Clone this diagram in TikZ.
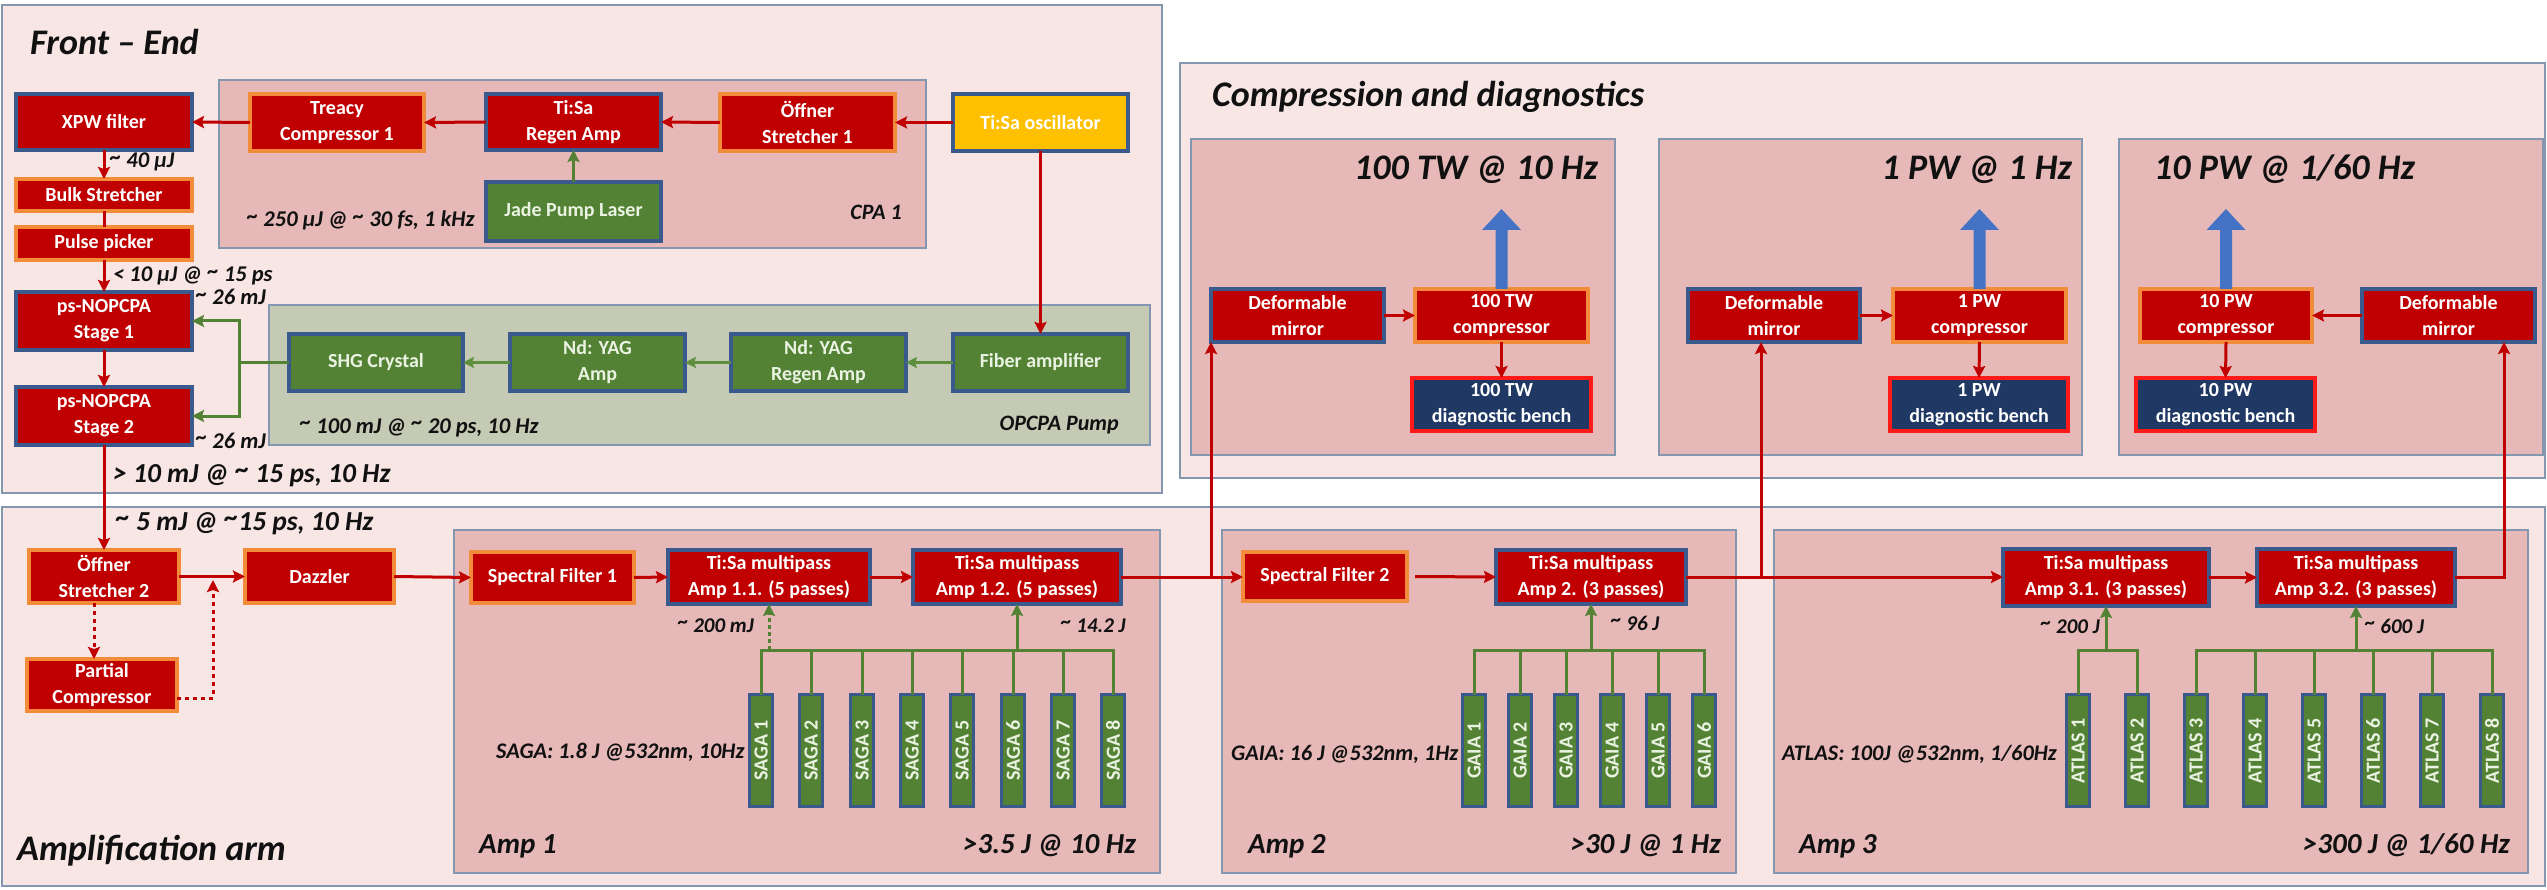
\documentclass[tikz,border=0pt]{standalone}
\usepackage{fontspec}
\setmainfont{Carlito}
\usetikzlibrary{arrows.meta,calc}
\definecolor{cRed}{HTML}{C00000}
\definecolor{cBlue}{HTML}{3A5A8E}
\definecolor{cOrange}{HTML}{F28C3A}
\definecolor{cGreen}{HTML}{548235}
\definecolor{cGreenL}{HTML}{5E8F3E}
\definecolor{cGreenTxt}{HTML}{EAF3E2}
\definecolor{cYellow}{HTML}{FFC000}
\definecolor{cNavy}{HTML}{1F3864}
\definecolor{cBright}{HTML}{FF1A1A}
\definecolor{cBlueArr}{HTML}{4472C4}
\definecolor{cOuter}{HTML}{F8E6E5}
\definecolor{cSub}{HTML}{E6B9B8}
\definecolor{cPump}{HTML}{C4CAB4}
\definecolor{cFrame}{HTML}{8497B0}
\definecolor{cText}{HTML}{111111}
\newcommand{\mkbox}[7]{\node[#1,minimum width={#5-#3-4},minimum height={#6-#4-4}] (#2) at ({(#3+#5)/2},{(#4+#6)/2}) {#7};}
\newcommand{\upblue}[1]{\fill[cBlueArr] ($(#1.north)+(-6,0)$) -- ++(0,-59) -- ++(-13.5,0) -- ++(19.5,-21) -- ++(19.5,21) -- ++(-13.5,0) -- ++(0,59) -- cycle;}
\newcommand{\tl}{\raisebox{0.3ex}{\textasciitilde}}
\begin{document}
\begin{tikzpicture}[x=1pt,y=-1pt,
  outerbox/.style={fill=cOuter, draw=cFrame, line width=1.5pt},
  subbox/.style={fill=cSub, draw=cFrame, line width=1.5pt},
  pumpbox/.style={fill=cPump, draw=cFrame, line width=1.5pt},
  box/.style={rectangle, inner sep=0pt, outer sep=0pt, align=center, text=white, font=\bfseries\fontsize{20}{26}\selectfont},
  rb/.style={box, fill=cRed, draw=cBlue, line width=4.5pt},
  ro/.style={box, fill=cRed, draw=cOrange, line width=3.5pt},
  gb/.style={box, fill=cGreen, draw=cBlue, line width=4.5pt, text=cGreenTxt},
  yb/.style={box, fill=cYellow, draw=cBlue, line width=4.5pt},
  db/.style={box, fill=cNavy, draw=cBright, line width=4pt},
  bar/.style={box, fill=cGreen, draw=cBlue, line width=3.5pt, text=cGreenTxt, rotate=90, minimum width=112, minimum height=23, font=\bfseries\fontsize{20}{20}\selectfont},
  lbl/.style={inner sep=0pt, anchor=base west, text=cText, font=\bfseries\itshape\fontsize{22.5}{26}\selectfont},
  lbls/.style={lbl, font=\bfseries\itshape\fontsize{21}{24}\selectfont},
  lbli/.style={lbl, font=\bfseries\itshape\fontsize{22.3}{25}\selectfont},
  lblc/.style={lbl, font=\bfseries\itshape\fontsize{22}{26}\selectfont},
  lblm/.style={lbl, font=\bfseries\itshape\fontsize{27.5}{32}\selectfont},
  lbla/.style={lbl, font=\bfseries\itshape\fontsize{29}{34}\selectfont},
  lblt/.style={lbl, font=\bfseries\itshape\fontsize{36}{40}\selectfont},
  lblh/.style={lbl, font=\bfseries\itshape\fontsize{36}{42}\selectfont},
  redline/.style={draw=cRed, line width=3pt},
  redarr/.style={redline, -{Stealth[length=12pt,width=12pt,inset=2pt]}},
  dotarr/.style={redarr, dash pattern=on 4pt off 4pt},
  greenline/.style={draw=cGreen, line width=3pt},
  greenarr/.style={greenline, -{Stealth[length=12pt,width=12pt,inset=2pt]}},
  greenarr2/.style={draw=cGreenL, line width=2.5pt, -{Stealth[length=11pt,width=11pt,inset=2pt]}},
]
\useasboundingbox (0,0) rectangle (2547,890);
\fill[white] (0,0) rectangle (2547,890);

% ---------- containers ----------
\draw[outerbox] (2,5) rectangle (1162,493);
\draw[subbox] (219,80) rectangle (926,248);
\draw[pumpbox] (269,305) rectangle (1150,445);
\draw[outerbox] (1180,63) rectangle (2545,478);
\draw[subbox] (1191,139) rectangle (1615,455);
\draw[subbox] (1659,139) rectangle (2082,455);
\draw[subbox] (2119,139) rectangle (2543,455);
\draw[outerbox] (2,507) rectangle (2545,886);
\draw[subbox] (454,530) rectangle (1160,873);
\draw[subbox] (1222,530) rectangle (1736,873);
\draw[subbox] (1774,530) rectangle (2528,873);

% ---------- front end ----------
\mkbox{rb}{xpw}{14}{92}{194}{152}{XPW filter}
\mkbox{ro}{treacy}{248}{92}{426}{153}{Treacy\\Compressor 1}
\mkbox{rb}{regen}{484}{92}{663}{152}{Ti:Sa\\Regen Amp}
\mkbox{gb}{jade}{484}{180}{663}{243}{Jade Pump Laser}
\mkbox{ro}{offner1}{718}{92}{897}{153}{Öffner\\Stretcher 1}
\mkbox{yb}{osc}{951}{92}{1130}{153}{Ti:Sa oscillator}
\mkbox{ro}{bulk}{14}{177}{194}{213}{Bulk Stretcher}
\mkbox{ro}{picker}{14}{225}{194}{262}{Pulse picker}
\mkbox{rb}{stage1}{14}{290}{194}{352}{ps-NOPCPA\\Stage 1}
\mkbox{rb}{stage2}{14}{385}{194}{447}{ps-NOPCPA\\Stage 2}
\mkbox{gb}{shg}{287}{332}{465}{393}{SHG Crystal}
\mkbox{gb}{ndamp}{508}{332}{687}{393}{Nd: YAG\\Amp}
\mkbox{gb}{ndregen}{729}{332}{908}{393}{Nd: YAG\\Regen Amp}
\mkbox{gb}{fiber}{951}{332}{1130}{393}{Fiber amplifier}

% ---------- compression ----------
\mkbox{rb}{dm1}{1209}{287}{1386}{344}{Deformable\\mirror}
\mkbox{ro}{comp1}{1413}{287}{1590}{344}{100 TW\\compressor}
\mkbox{db}{diag1}{1410}{376}{1593}{433}{100 TW\\diagnostic bench}
\mkbox{rb}{dm2}{1686}{287}{1862}{344}{Deformable\\mirror}
\mkbox{ro}{comp2}{1891}{287}{2068}{344}{1 PW\\compressor}
\mkbox{db}{diag2}{1888}{376}{2070}{433}{1 PW\\diagnostic bench}
\mkbox{ro}{comp3}{2138}{287}{2314}{344}{10 PW\\compressor}
\mkbox{db}{diag3}{2134}{376}{2317}{433}{10 PW\\diagnostic bench}
\mkbox{rb}{dm3}{2360}{287}{2537}{344}{Deformable\\mirror}

% ---------- amplification ----------
\mkbox{ro}{offner2}{27}{548}{181}{605}{Öffner\\Stretcher 2}
\mkbox{ro}{dazzler}{243}{548}{396}{605}{Dazzler}
\mkbox{ro}{partial}{25}{657}{179}{713}{Partial\\Compressor}
\mkbox{ro}{sf1}{469}{550}{636}{605}{Spectral Filter 1}
\mkbox{rb}{a11}{666}{548}{872}{606}{Ti:Sa multipass\\Amp 1.1. (5 passes)}
\mkbox{rb}{a12}{911}{548}{1123}{606}{Ti:Sa multipass\\Amp 1.2. (5 passes)}
\mkbox{ro}{sf2}{1241}{550}{1409}{603}{Spectral Filter 2}
\mkbox{rb}{a2}{1494}{548}{1688}{606}{Ti:Sa multipass\\Amp 2. (3 passes)}
\mkbox{rb}{a31}{2001}{547}{2211}{608}{Ti:Sa multipass\\Amp 3.1. (3 passes)}
\mkbox{rb}{a32}{2255}{547}{2457}{608}{Ti:Sa multipass\\Amp 3.2. (3 passes)}

\foreach \i/\x in {1/761,2/811,3/862,4/912,5/962,6/1013,7/1063,8/1113}
  \node[bar] (saga\i) at (\x,750.5) {SAGA \i};
\foreach \i/\x in {1/1474,2/1520,3/1566,4/1612,5/1658,6/1704}
  \node[bar] (gaia\i) at (\x,750.5) {GAIA \i};
\foreach \i/\x in {1/2078,2/2137,3/2196,4/2255,5/2314,6/2373,7/2432,8/2492}
  \node[bar] (atlas\i) at (\x,750.5) {ATLAS \i};

% ---------- labels ----------
\node[lblh] (tfe) at (30,55) {Front – End};
\node[lbl] (l40) at (110,168) {\tl\ 40 µJ};
\node[lbl] (l250) at (247,227) {\tl\ 250 µJ @ \tl\ 30 fs, 1 kHz};
\node[lblc, anchor=base east] (lcpa) at (902,220) {CPA 1};
\node[lbl] (l10) at (113,282) {< 10 µJ @ \tl\ 15 ps};
\node[lbl] (l26a) at (196,305) {\tl\ 26 mJ};
\node[lbl] (l26b) at (196,448) {\tl\ 26 mJ};
\node[lbl] (l100) at (300,433) {\tl\ 100 mJ @ \tl\ 20 ps, 10 Hz};
\node[lblc, anchor=base east] (lopc) at (1119,430) {OPCPA Pump};
\node[lblm] (lout) at (113,482) {> 10 mJ @ \tl\ 15 ps, 10 Hz};
\node[lblh] (tcd) at (1212,107) {Compression and diagnostics};
\node[lblt, anchor=base east] (t100) at (1598,180) {100 TW @ 10 Hz};
\node[lblt, anchor=base east] (t1pw) at (2072,180) {1 PW @ 1 Hz};
\node[lblt] (t10pw) at (2154,180) {10 PW @ 1/60 Hz};
\node[lblm] (l5) at (116,530) {\tl\ 5 mJ @ \tl15 ps, 10 Hz};
\node[lblh] (tamp) at (17,860) {Amplification arm};
\node[lbla] (ta1) at (479,853) {Amp 1};
\node[lbla, anchor=base east] (ea1) at (1136,853) {>3.5 J @ 10 Hz};
\node[lbla] (ta2) at (1248,853) {Amp 2};
\node[lbla, anchor=base east] (ea2) at (1721,853) {>30 J @ 1 Hz};
\node[lbla] (ta3) at (1799,853) {Amp 3};
\node[lbla, anchor=base east] (ea3) at (2510,853) {>300 J @ 1/60 Hz};
\node[lbls, anchor=base east] (l200m) at (754,632) {\tl\ 200 mJ};
\node[lbls] (l142) at (1061,632) {\tl\ 14.2 J};
\node[lbls] (l96) at (1611,630) {\tl\ 96 J};
\node[lbls, anchor=base east] (l200j) at (2100,633) {\tl\ 200 J};
\node[lbls] (l600) at (2365,633) {\tl\ 600 J};
\node[lbli] (lsaga) at (496,758) {SAGA: 1.8 J @532nm, 10Hz};
\node[lbli] (lgaia) at (1231,760) {GAIA: 16 J @532nm, 1Hz};
\node[lbli] (latlas) at (1782,760) {ATLAS: 100J @532nm, 1/60Hz};

% ---------- connectors: front end ----------
\draw[redarr] (osc.west) -- (offner1.east);
\draw[redarr] (offner1.west) -- (regen.east);
\draw[redarr] (regen.west) -- (treacy.east);
\draw[redarr] (treacy.west) -- (xpw.east);
\draw[greenarr] (jade.north) -- (regen.south);
\draw[redarr] (xpw.south) -- (bulk.north);
\draw[redline] (bulk.south) -- (picker.north);
\draw[redarr] (picker.south) -- (stage1.north);
\draw[redarr] (stage1.south) -- (stage2.north);
\draw[redarr] (osc.south) -- (fiber.north);
\draw[greenarr2] (fiber.west) -- (ndregen.east);
\draw[greenarr2] (ndregen.west) -- (ndamp.east);
\draw[greenarr2] (ndamp.west) -- (shg.east);
\coordinate (gj) at (239,362.5);
\draw[greenline] (shg.west) -- (gj);
\draw[greenarr] (gj) |- (stage1.east);
\draw[greenarr] (gj) |- (stage2.east);
\draw[redarr] (stage2.south) -- (offner2.north);

% ---------- connectors: amplification ----------
\draw[redarr] (offner2.east) -- (dazzler.west);
\coordinate (dx) at (94,0);
\draw[dotarr] (offner2.south -| dx) -- (partial.north -| dx);
\coordinate (d3) at (213,698);
\coordinate (d2) at (213,580);
\draw[dotarr] (partial.east |- d3) -- (d3) -- (d2);
\draw[redarr] (dazzler.east) -- (sf1.west);
\draw[redarr] (sf1.east) -- (a11.west);
\draw[redarr] (a11.east) -- (a12.west);
\coordinate (j1) at (1211,577);
\draw[redarr] (a12.east) -- (sf2.west |- a12.east);
\draw[redarr] (j1) -- (j1 |- dm1.south);
\draw[redarr] ([xshift=8pt]sf2.east) -- (a2.west);
\coordinate (j2) at (1761,577);
\draw[redarr] (a2.east) -- (a31.west |- a2.east);
\draw[redarr] (j2) -- (j2 |- dm2.south);
\draw[redarr] (a31.east) -- (a32.west);
\coordinate (j3) at (2504,577.5);
\draw[redarr] (a32.east) -- (j3) -- (j3 |- dm3.south);

\coordinate (bus) at (0,650);
\draw[greenline] (saga1.east) -- (saga1.east |- bus) -- (saga8.east |- bus) -- (saga8.east);
\foreach \i in {2,...,7} \draw[greenline] (saga\i.east) -- (saga\i.east |- bus);
\draw[greenarr, dash pattern=on 4pt off 3pt] (a11.south |- bus) -- (a11.south);
\draw[greenarr] (a12.south |- bus) -- (a12.south);
\draw[greenline] (gaia1.east) -- (gaia1.east |- bus) -- (gaia6.east |- bus) -- (gaia6.east);
\foreach \i in {2,...,5} \draw[greenline] (gaia\i.east) -- (gaia\i.east |- bus);
\draw[greenarr] (a2.south |- bus) -- (a2.south);
\draw[greenline] (atlas1.east) -- (atlas1.east |- bus) -- (atlas2.east |- bus) -- (atlas2.east);
\draw[greenarr] (a31.south |- bus) -- (a31.south);
\draw[greenline] (atlas3.east) -- (atlas3.east |- bus) -- (atlas8.east |- bus) -- (atlas8.east);
\foreach \i in {4,...,7} \draw[greenline] (atlas\i.east) -- (atlas\i.east |- bus);
\draw[greenarr] (a32.south |- bus) -- (a32.south);

% ---------- connectors: compression ----------
\draw[redarr] (dm1.east) -- (comp1.west);
\draw[redarr] (comp1.south) -- (diag1.north);
\draw[redarr] (dm2.east) -- (comp2.west);
\draw[redarr] (comp2.south) -- (diag2.north);
\draw[redarr] (dm3.west) -- (comp3.east);
\draw[redarr] (comp3.south) -- (diag3.north);
\upblue{comp1}
\upblue{comp2}
\upblue{comp3}
\end{tikzpicture}
\end{document}
